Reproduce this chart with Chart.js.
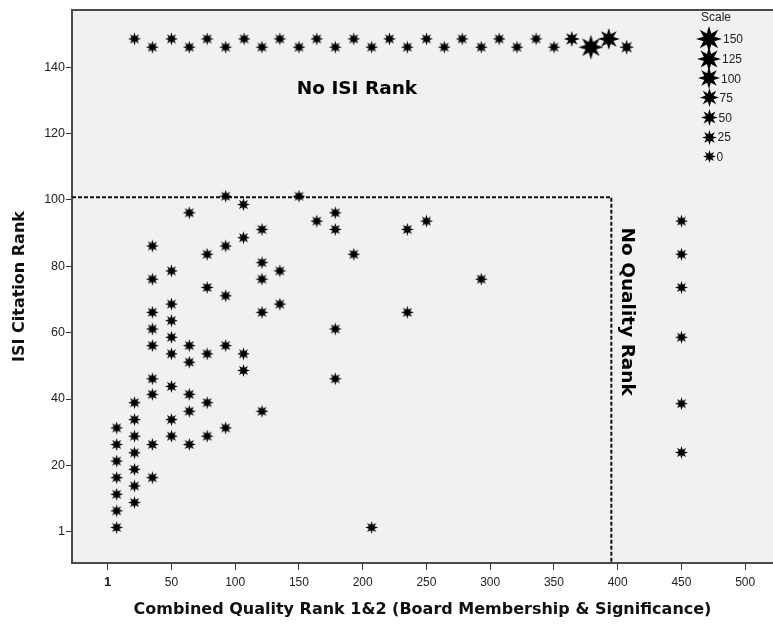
<!DOCTYPE html>
<html>
<head>
<meta charset="utf-8">
<script src="https://cdn.jsdelivr.net/npm/chart.js@4.4.1/dist/chart.umd.min.js"></script>
<style>
    html, body { margin: 0; padding: 0; background: #fff; overflow: hidden; }
    canvas { display: block; }
</style>
</head>
<body>
<canvas id="chart" width="773" height="628"></canvas>
<script>
// --- values ---

const xTickVals = [0, 50, 100, 150, 200, 250, 300, 350, 400, 450, 500];
const xTickLabels = ['1', '50', '100', '150', '200', '250', '300', '350', '400', '450', '500'];
const yTickVals = [0, 20, 40, 60, 80, 100, 120, 140];
const yTickLabels = ['1', '20', '40', '60', '80', '100', '120', '140'];

// journals with both a quality rank and an ISI rank
const rankedX = [
    7, 7, 7, 7, 7, 7, 7,
    21, 21, 21, 21, 21, 21, 21,
    35, 35, 35, 35, 35, 35, 35, 35, 35,
    50, 50, 50, 50, 50, 50, 50, 50,
    64, 64, 64, 64, 64, 64,
    78, 78, 78, 78, 78,
    92.5, 92.5, 92.5, 92.5, 92.5,
    106.5, 106.5, 106.5, 106.5,
    121, 121, 121, 121, 121,
    135, 135,
    150,
    164,
    178.5, 178.5, 178.5, 178.5,
    193,
    207,
    235, 235,
    250,
    293
];
const rankedY = [
    31.3, 26.3, 21.3, 16.3, 11.3, 6.3, 1.3,
    38.9, 33.8, 28.8, 23.8, 18.8, 13.8, 8.8,
    86.1, 76.1, 66.1, 61.1, 56.1, 46.1, 41.4, 26.3, 16.3,
    78.6, 68.6, 63.6, 58.6, 53.6, 43.8, 33.8, 28.8,
    96.1, 56.1, 51.1, 41.4, 36.3, 26.3,
    83.6, 73.6, 53.6, 38.9, 28.8,
    101.1, 86.1, 71.1, 56.1, 31.3,
    98.6, 88.6, 53.6, 48.6,
    91.1, 81.1, 76.1, 66.1, 36.3,
    78.6, 68.6,
    101.1,
    93.6,
    96.1, 91.1, 61.1, 46.1,
    83.6,
    1.3,
    91.1, 66.1,
    93.6,
    76.1
];

// top band: no ISI rank
const noIsiX = [21, 35, 50, 64, 78, 92.5, 107, 121, 135, 150, 164, 178.5, 193, 207,
    221, 235, 250, 264, 278, 293, 307, 321, 336, 350, 364, 379, 393, 407];
const noIsiY = [148.5, 146, 148.5, 146, 148.5, 146, 148.5, 146, 148.5, 146, 148.5, 146, 148.5, 146,
    148.5, 146, 148.5, 146, 148.5, 146, 148.5, 146, 148.5, 146, 148.5, 146, 148.5, 146];
const noIsiScale = [0, 0, 0, 0, 0, 0, 0, 0, 0, 0, 0, 0, 0, 0,
    0, 0, 0, 0, 0, 0, 0, 0, 0, 0, 40, 140, 105, 28];

// right column: no quality rank
const noQualX = [450, 450, 450, 450, 450, 450];
const noQualY = [93.6, 83.6, 73.6, 58.6, 38.6, 23.9];

const legendScale = [150, 125, 100, 75, 50, 25, 0];

const cutoffX = 395;
const cutoffY = 100.8;

// --- drawing ---

const starCache = {};
function starImage(scaleVal) {
    const size = Math.round(12.5 + (scaleVal || 0) * 0.09);
    if (starCache[size]) return starCache[size];
    const c = document.createElement('canvas');
    c.width = c.height = size + 2;
    const g = c.getContext('2d');
    const mid = c.width / 2, R = size / 2, r = R * 0.46;
    g.beginPath();
    for (let i = 0; i < 16; i++) {
        const a = -Math.PI / 2 + i * Math.PI / 8;
        const rad = i % 2 ? r : R;
        g.lineTo(mid + rad * Math.cos(a), mid + rad * Math.sin(a));
    }
    g.closePath();
    g.fillStyle = '#000';
    g.fill();
    starCache[size] = c;
    return c;
}

const toPoints = (xs, ys, ss) => xs.map((x, i) => ({ x: x, y: ys[i], s: ss ? ss[i] : 0 }));

const decor = {
    id: 'decor',
    beforeDraw(chart) {
        const { ctx, chartArea: a } = chart;
        ctx.save();
        ctx.fillStyle = '#fff';
        ctx.fillRect(0, 0, chart.width, chart.height);
        ctx.fillStyle = '#f1f1f1';
        ctx.fillRect(a.left, a.top, a.right - a.left, a.bottom - a.top);
        ctx.restore();
    },
    beforeDatasetsDraw(chart) {
        const { ctx, chartArea: a, scales: { x, y } } = chart;
        ctx.save();
        // plot frame (left, top, bottom)
        ctx.strokeStyle = '#4a4a4a';
        ctx.lineWidth = 2;
        ctx.beginPath();
        ctx.moveTo(a.right, a.top);
        ctx.lineTo(a.left, a.top);
        ctx.lineTo(a.left, a.bottom);
        ctx.lineTo(a.right, a.bottom);
        ctx.stroke();

        // cut-off lines
        const cx = x.getPixelForValue(cutoffX);
        const cy = y.getPixelForValue(cutoffY);
        ctx.strokeStyle = '#111';
        ctx.setLineDash([4, 2]);
        ctx.beginPath();
        ctx.moveTo(a.left, cy);
        ctx.lineTo(cx, cy);
        ctx.lineTo(cx, a.bottom);
        ctx.stroke();
        ctx.setLineDash([]);

        // region labels
        ctx.fillStyle = '#000';
        ctx.font = 'bold 18.5px "DejaVu Sans"';
        ctx.textAlign = 'center';
        ctx.textBaseline = 'middle';
        ctx.fillText('No ISI Rank', x.getPixelForValue(195.5), y.getPixelForValue(133.4));
        ctx.translate(x.getPixelForValue(407.5), y.getPixelForValue(66.3));
        ctx.rotate(Math.PI / 2);
        ctx.fillText('No Quality Rank', 0, 0);
        ctx.restore();
    },
    afterDraw(chart) {
        const ctx = chart.ctx;
        const lx = 709, ly = 39, step = 19.6;
        ctx.save();
        ctx.fillStyle = '#222';
        ctx.font = '12px "Liberation Sans", Arial, sans-serif';
        ctx.textAlign = 'center';
        ctx.textBaseline = 'middle';
        ctx.fillText('Scale', 716, 18);
        ctx.textAlign = 'left';
        legendScale.forEach((s, i) => {
            const img = starImage(s);
            const cy = ly + i * step;
            ctx.drawImage(img, Math.round(lx - img.width / 2), Math.round(cy - img.height / 2));
            ctx.fillText(String(s), lx + img.width / 2, cy + 1);
        });
        ctx.restore();
    }
};

const starStyle = {
    pointStyle: c => starImage(c.raw ? c.raw.s : 0),
    pointRadius: 6,
    pointHoverRadius: 6,
    backgroundColor: '#000',
    borderColor: '#000'
};

const titleFont = { family: '"DejaVu Sans"', size: 16, weight: 'bold' };
const tickFamily = '"Liberation Sans", Arial, sans-serif';

new Chart(document.getElementById('chart'), {
    type: 'scatter',
    data: {
        datasets: [
            { label: 'ranked', data: toPoints(rankedX, rankedY), ...starStyle },
            { label: 'no ISI rank', data: toPoints(noIsiX, noIsiY, noIsiScale), ...starStyle },
            { label: 'no quality rank', data: toPoints(noQualX, noQualY), ...starStyle }
        ]
    },
    plugins: [decor],
    options: {
        responsive: false,
        animation: false,
        events: [],
        layout: { autoPadding: false, padding: { top: 10, left: 0, right: 0, bottom: 0 } },
        plugins: {
            legend: { display: false },
            tooltip: { enabled: false }
        },
        scales: {
            x: {
                type: 'linear',
                min: -28,
                max: 521.8,
                afterFit: s => {
                    s.height = 65;
                    s.paddingLeft = 0;
                    s.paddingRight = 0;
                },
                afterBuildTicks: s => { s.ticks = xTickVals.map(v => ({ value: v })); },
                grid: { drawOnChartArea: false, tickLength: 7, color: '#333', lineWidth: 1 },
                border: { display: false },
                ticks: {
                    autoSkip: false,
                    maxRotation: 0,
                    padding: 5,
                    color: '#222',
                    font: c => c.index === 0
                        ? { family: tickFamily, size: 13, weight: 'bold' }
                        : { family: tickFamily, size: 12 },
                    callback: (v, i) => xTickLabels[i]
                },
                title: {
                    display: true,
                    text: 'Combined Quality Rank 1&2 (Board Membership & Significance)',
                    color: '#111',
                    font: titleFont,
                    padding: { top: 9, bottom: 9 }
                }
            },
            y: {
                type: 'linear',
                min: -9.41,
                max: 157.2,
                afterFit: s => {
                    s.width = 72;
                    s.paddingTop = 0;
                    s.paddingBottom = 0;
                },
                afterBuildTicks: s => { s.ticks = yTickVals.map(v => ({ value: v })); },
                grid: { drawOnChartArea: false, tickLength: 6, color: '#333', lineWidth: 1 },
                border: { display: false },
                ticks: {
                    autoSkip: false,
                    padding: 1,
                    color: '#222',
                    font: { family: tickFamily, size: 12.5 },
                    callback: (v, i) => yTickLabels[i]
                },
                title: {
                    display: true,
                    text: 'ISI Citation Rank',
                    color: '#111',
                    font: titleFont,
                    padding: { top: 10, bottom: 4 }
                }
            }
        }
    }
});
</script>
</body>
</html>
